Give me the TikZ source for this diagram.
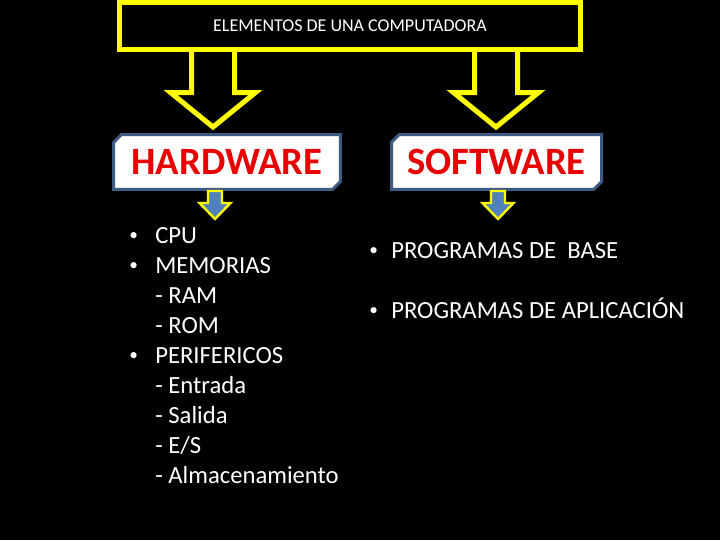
\documentclass[tikz,border=0pt]{standalone}
\usepackage{fontspec}
\setmainfont{Carlito}
\usepackage{tikz}
\usetikzlibrary{positioning}
\usetikzlibrary{shapes.misc}
\definecolor{hlyellow}{rgb}{1,1,0}
\definecolor{boxblue}{RGB}{62,90,128}
\definecolor{arrowblue}{RGB}{79,129,189}
\definecolor{partred}{RGB}{232,0,0}
\newcommand{\bul}{\raisebox{0.12em}{\fontsize{13}{13}\selectfont•}}

\begin{document}
\begin{tikzpicture}[x=0.75pt, y=-0.75pt,
    title/.style = {draw=hlyellow, line width=3.75pt, text=white, minimum width=345.75pt, minimum height=34.9pt, inner sep=0pt, font=\fontsize{13.5}{16}\selectfont},
    part/.style = {chamfered rectangle, chamfered rectangle corners={north west, south east}, chamfered rectangle xsep=2.5pt, draw=boxblue, line width=2.25pt, fill=white, text=partred, minimum height=41pt, inner sep=0pt, font=\fontsize{29}{34}\selectfont\bfseries},
    bigarrow/.style = {draw=hlyellow, line width=3.75pt},
    smallarrow/.style = {draw=hlyellow, fill=arrowblue, line width=1.8pt},
    items/.style = {text=white, anchor=north west, inner sep=0pt, align=left, font=\fontsize{18.5}{22.5}\selectfont}
    ]
    \path[use as bounding box, fill=black] (0,0) rectangle (720,540);
    \node[title] (top) at (350,25.75) {ELEMENTOS DE UNA COMPUTADORA};
    \node[part, minimum width=170pt] (hw) at (227,162) {HARDWARE};
    \node[part, minimum width=157.5pt] (sw) at (496.5,162) {SOFTWARE};
    \coordinate (hwin) at (213,127);
    \coordinate (swin) at (496,127);
    \draw[bigarrow] (hwin) ++(-21.5,-77) -- ++(0,42.5) -- ++(-21,0) -- (hwin) -- ++(42.5,-34.5) -- ++(-21,0) -- ++(0,-42.5);
    \draw[bigarrow] (swin) ++(-21.5,-77) -- ++(0,42.5) -- ++(-21,0) -- (swin) -- ++(42.5,-34.5) -- ++(-21,0) -- ++(0,-42.5);
    \coordinate (hwout) at (215,219);
    \coordinate (swout) at (498,219);
    \draw[smallarrow] (hwout) -- ++(-15.5,-16) -- ++(8.5,0) -- ++(0,-12) -- ++(14,0) -- ++(0,12) -- ++(8.5,0) -- cycle;
    \draw[smallarrow] (swout) -- ++(-15.5,-16) -- ++(8.5,0) -- ++(0,-12) -- ++(14,0) -- ++(0,12) -- ++(8.5,0) -- cycle;
    \node[items] (hwlist) at (129,227) {%
      \makebox[19.5pt][l]{\bul}CPU\\
      \makebox[19.5pt][l]{\bul}MEMORIAS\\
      \hspace*{19.5pt}- RAM\\
      \hspace*{19.5pt}- ROM\\
      \makebox[19.5pt][l]{\bul}PERIFERICOS\\
      \hspace*{19.5pt}- Entrada\\
      \hspace*{19.5pt}- Salida\\
      \hspace*{19.5pt}- E/S\\
      \hspace*{19.5pt}- Almacenamiento};
    \node[items] (swlist) at (369,242) {%
      \makebox[16.5pt][l]{\bul}PROGRAMAS DE~ BASE\\[22.5pt]
      \makebox[16.5pt][l]{\bul}PROGRAMAS DE APLICACIÓN};
\end{tikzpicture}
\end{document}
